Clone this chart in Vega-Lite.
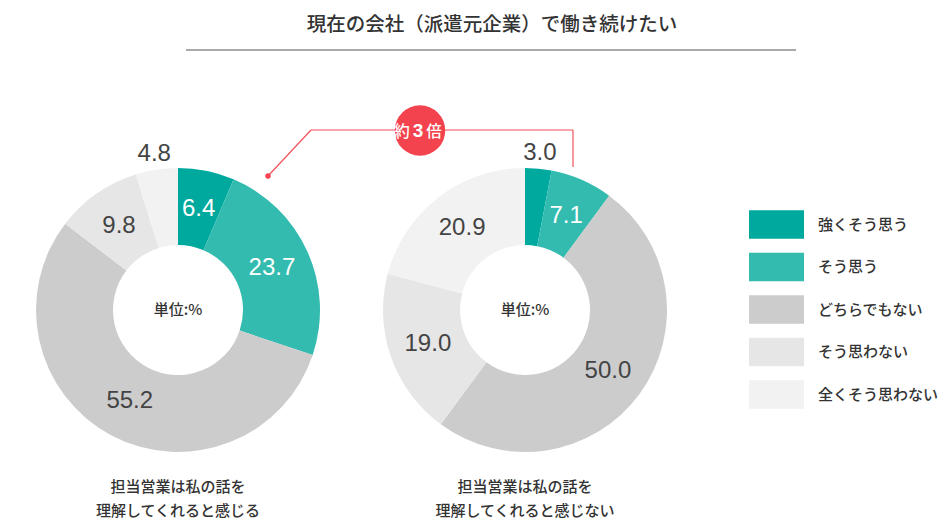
{
  "$schema": "https://vega.github.io/schema/vega-lite/v6.json",
  "width": 947,
  "height": 531,
  "autosize": {"type": "fit", "contains": "padding"},
  "padding": 0,
  "background": "white",
  "config": {
    "view": {"stroke": null},
    "font": "'Noto Sans CJK JP Medium', 'Noto Sans CJK JP'",
    "legend": {
      "orient": "none",
      "legendX": 749,
      "legendY": 197,
      "symbolType": "M-1,-0.52H1V0.52H-1Z",
      "symbolSize": 3025,
      "symbolStrokeWidth": 0,
      "symbolOpacity": 1,
      "labelFont": "'Noto Sans CJK JP Medium', 'Noto Sans CJK JP'",
      "labelFontSize": 15,
      "labelFontWeight": "normal",
      "labelColor": "#333333",
      "labelOffset": 14,
      "rowPadding": 0.5
    }
  },
  "data": {
    "values": [
      {"group": "L", "cat": "強くそう思う", "idx": 0, "value": 6.4},
      {"group": "L", "cat": "そう思う", "idx": 1, "value": 23.7},
      {"group": "L", "cat": "どちらでもない", "idx": 2, "value": 55.2},
      {"group": "L", "cat": "そう思わない", "idx": 3, "value": 9.8},
      {"group": "L", "cat": "全くそう思わない", "idx": 4, "value": 4.8},
      {"group": "R", "cat": "強くそう思う", "idx": 0, "value": 3.0},
      {"group": "R", "cat": "そう思う", "idx": 1, "value": 7.1},
      {"group": "R", "cat": "どちらでもない", "idx": 2, "value": 50.0},
      {"group": "R", "cat": "そう思わない", "idx": 3, "value": 19.0},
      {"group": "R", "cat": "全くそう思わない", "idx": 4, "value": 20.9}
    ]
  },
  "layer": [
    {
      "data": {"values": [{}]},
      "mark": {"type": "text", "x": 492, "y": 25, "text": "現在の会社（派遣元企業）で働き続けたい", "fontSize": 19.5, "color": "#333333", "align": "center", "baseline": "middle"}
    },
    {
      "data": {"values": [{}]},
      "mark": {"type": "rule", "color": "#555555", "strokeWidth": 1},
      "encoding": {"x": {"value": 186}, "x2": {"value": 796}, "y": {"value": 50}}
    },
    {
      "transform": [{"filter": "datum.group == 'L'"}],
      "mark": {"type": "arc", "x": 178, "y": 310, "outerRadius": 142, "innerRadius": 65},
      "encoding": {
        "theta": {"field": "value", "type": "quantitative", "stack": "normalize"},
        "order": {"field": "idx", "type": "quantitative"},
        "color": {
          "field": "cat", "type": "nominal",
          "scale": {
            "domain": ["強くそう思う", "そう思う", "どちらでもない", "そう思わない", "全くそう思わない"],
            "range": ["#00A99D", "#33BBAF", "#CCCCCC", "#E6E6E6", "#F2F2F2"]
          },
          "legend": {"title": null}
        }
      }
    },
    {
      "transform": [{"filter": "datum.group == 'L'"}],
      "mark": {"type": "text", "x": 178, "y": 310, "radius": 103, "font": "Liberation Sans", "fontSize": 24, "align": "center", "baseline": "middle"},
      "encoding": {
        "theta": {"field": "value", "type": "quantitative", "stack": "normalize"},
        "order": {"field": "idx", "type": "quantitative"},
        "text": {"field": "value", "type": "quantitative", "format": ".1f"},
        "color": {"condition": {"test": "datum.idx < 2", "value": "#FFFFFF"}, "value": "#444444"},
        "opacity": {"condition": {"test": "datum.value < 5", "value": 0}, "value": 1}
      }
    },
    {
      "transform": [{"filter": "datum.group == 'L'"}],
      "mark": {"type": "text", "x": 178, "y": 310, "radius": 158, "font": "Liberation Sans", "fontSize": 24, "align": "center", "baseline": "middle", "color": "#444444"},
      "encoding": {
        "theta": {"field": "value", "type": "quantitative", "stack": "normalize"},
        "order": {"field": "idx", "type": "quantitative"},
        "text": {"field": "value", "type": "quantitative", "format": ".1f"},
        "opacity": {"condition": {"test": "datum.value < 5", "value": 1}, "value": 0}
      }
    },
    {
      "transform": [{"filter": "datum.group == 'R'"}],
      "mark": {"type": "arc", "x": 525, "y": 310, "outerRadius": 142, "innerRadius": 65},
      "encoding": {
        "theta": {"field": "value", "type": "quantitative", "stack": "normalize"},
        "order": {"field": "idx", "type": "quantitative"},
        "color": {"field": "cat", "type": "nominal"}
      }
    },
    {
      "transform": [{"filter": "datum.group == 'R'"}],
      "mark": {"type": "text", "x": 525, "y": 310, "radius": 103, "font": "Liberation Sans", "fontSize": 24, "align": "center", "baseline": "middle"},
      "encoding": {
        "theta": {"field": "value", "type": "quantitative", "stack": "normalize"},
        "order": {"field": "idx", "type": "quantitative"},
        "text": {"field": "value", "type": "quantitative", "format": ".1f"},
        "color": {"condition": {"test": "datum.idx < 2", "value": "#FFFFFF"}, "value": "#444444"},
        "opacity": {"condition": {"test": "datum.value < 5", "value": 0}, "value": 1}
      }
    },
    {
      "transform": [{"filter": "datum.group == 'R'"}],
      "mark": {"type": "text", "x": 525, "y": 310, "radius": 158, "font": "Liberation Sans", "fontSize": 24, "align": "center", "baseline": "middle", "color": "#444444"},
      "encoding": {
        "theta": {"field": "value", "type": "quantitative", "stack": "normalize"},
        "order": {"field": "idx", "type": "quantitative"},
        "text": {"field": "value", "type": "quantitative", "format": ".1f"},
        "opacity": {"condition": {"test": "datum.value < 5", "value": 1}, "value": 0}
      }
    },
    {
      "data": {"values": [{}]},
      "mark": {"type": "text", "x": 178, "y": 310, "text": "単位:%", "fontSize": 15, "color": "#333333", "align": "center", "baseline": "middle"}
    },
    {
      "data": {"values": [{}]},
      "mark": {"type": "text", "x": 525, "y": 310, "text": "単位:%", "fontSize": 15, "color": "#333333", "align": "center", "baseline": "middle"}
    },
    {
      "data": {"values": [{}]},
      "mark": {"type": "text", "x": 178, "y": 487, "text": ["担当営業は私の話を", "理解してくれると感じる"], "lineHeight": 24, "fontSize": 15, "color": "#333333", "align": "center", "baseline": "middle"}
    },
    {
      "data": {"values": [{}]},
      "mark": {"type": "text", "x": 525, "y": 487, "text": ["担当営業は私の話を", "理解してくれると感じない"], "lineHeight": 24, "fontSize": 15, "color": "#333333", "align": "center", "baseline": "middle"}
    },
    {
      "data": {"values": [{}]},
      "mark": {"type": "rule", "color": "#F2505A", "strokeWidth": 1.2},
      "encoding": {"x": {"value": 268}, "y": {"value": 176}, "x2": {"value": 311}, "y2": {"value": 130}}
    },
    {
      "data": {"values": [{}]},
      "mark": {"type": "rule", "color": "#F2505A", "strokeWidth": 1.2},
      "encoding": {"x": {"value": 311}, "x2": {"value": 573}, "y": {"value": 130}}
    },
    {
      "data": {"values": [{}]},
      "mark": {"type": "rule", "color": "#F2505A", "strokeWidth": 1.2},
      "encoding": {"x": {"value": 573}, "y": {"value": 130}, "y2": {"value": 167}}
    },
    {
      "data": {"values": [{}]},
      "mark": {"type": "point", "x": 268, "y": 176, "shape": "circle", "filled": true, "size": 30, "color": "#F2434F", "opacity": 1}
    },
    {
      "data": {"values": [{}]},
      "mark": {"type": "point", "x": 420, "y": 130.5, "shape": "circle", "filled": true, "size": 2550, "color": "#F2434F", "opacity": 1}
    },
    {
      "data": {"values": [{}]},
      "mark": {"type": "text", "x": 402, "y": 132, "text": "約", "fontSize": 15.5, "fontWeight": "bold", "color": "#FFFFFF", "align": "center", "baseline": "middle"}
    },
    {
      "data": {"values": [{}]},
      "mark": {"type": "text", "x": 418, "y": 131, "text": "3", "font": "Liberation Sans", "fontSize": 19, "fontWeight": "bold", "color": "#FFFFFF", "align": "center", "baseline": "middle"}
    },
    {
      "data": {"values": [{}]},
      "mark": {"type": "text", "x": 434, "y": 132, "text": "倍", "fontSize": 15.5, "fontWeight": "bold", "color": "#FFFFFF", "align": "center", "baseline": "middle"}
    }
  ]
}
